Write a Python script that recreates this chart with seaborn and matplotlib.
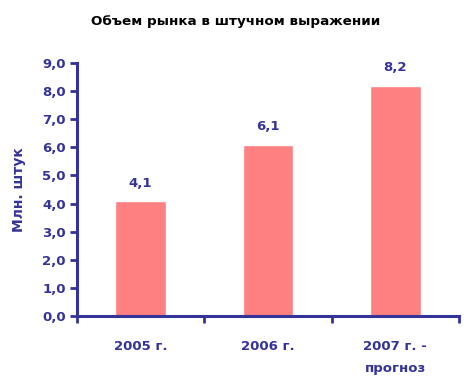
import matplotlib
matplotlib.use("Agg")
import matplotlib.pyplot as plt
import seaborn as sns
import pandas as pd
import numpy as np

years = ["2005 г.", "2006 г.", "2007 г. -\nпрогноз"]
volumes = [4.1, 6.1, 8.2]

sns.set_style("white")
plt.rcParams['font.family'] = ['DejaVu Sans']

blue = "#333399"
df = pd.DataFrame({"year": years, "volume": volumes})

fig = plt.figure(figsize=(4.71, 3.87), dpi=100)
ax = fig.add_axes([0.1635, 0.1835, 0.811, 0.6535])
sns.barplot(data=df, x="year", y="volume", color="#FF8080", width=0.4,
            saturation=1, ax=ax)

for i, v in enumerate(volumes):
    ax.text(i, v + 0.4, f"{v:.1f}".replace(".", ","), ha="center", va="bottom",
            color=blue, fontsize=9.5, fontweight="bold")

ax.set_xlim(-0.5, 2.5)
ax.set_ylim(0, 9)
ax.set_yticks(np.arange(0, 9.1, 1))
ax.set_yticklabels([f"{t:.1f}".replace(".", ",") for t in np.arange(0, 9.1, 1)])
ax.set_xticks([-0.5, 0.5, 1.5, 2.5], minor=True)
ax.tick_params(axis="x", which="both", bottom=True)
ax.tick_params(axis="x", which="major", length=0, pad=17)
ax.tick_params(axis="x", which="minor", length=5, width=2, color=blue, direction="out")
ax.tick_params(axis="y", left=True, length=5, width=2, color=blue, direction="out", pad=3)
for lab in ax.get_xticklabels() + ax.get_yticklabels():
    lab.set_color(blue)
    lab.set_fontweight("bold")
    lab.set_fontsize(9.5)
for lab in ax.get_xticklabels():
    lab.set_linespacing(1.9)
    lab.set_va("top")

for side in ["top", "right"]:
    ax.spines[side].set_visible(False)
for side in ["left", "bottom"]:
    ax.spines[side].set_color(blue)
    ax.spines[side].set_linewidth(2.2)

ax.set_xlabel("")
ax.set_ylabel("Млн. штук", color=blue, fontsize=10, fontweight="bold", labelpad=12)
fig.text(0.5, 0.945, "Объем рынка в штучном выражении", ha="center", va="center",
         fontsize=9.7, fontweight="bold", color="black")

fig.savefig("out.png", dpi=100)
